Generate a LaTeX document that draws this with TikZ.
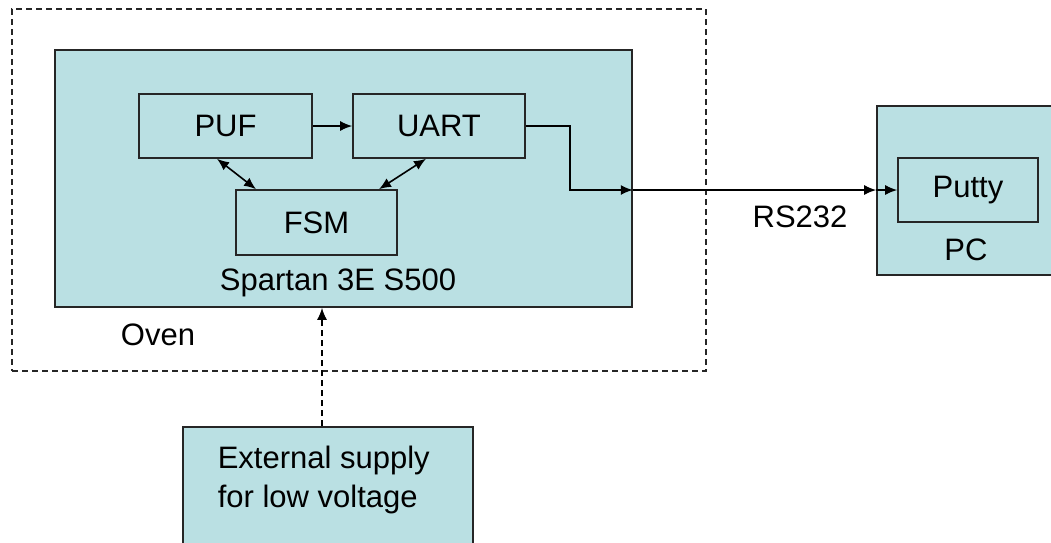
\documentclass[tikz,border=0pt]{standalone}
\usepackage{fontspec}
\setmainfont{Liberation Sans}
\usepackage{tikz}
\usetikzlibrary{arrows.meta,positioning}
\definecolor{boxfill}{RGB}{186,224,227}

\begin{document}
\begin{tikzpicture}[x=1pt,y=-1pt,line width=1.6pt,
  font=\fontsize{31}{39}\selectfont,
  blk/.style={draw=black!85,fill=boxfill,inner sep=0pt},
  arr/.style={-{Latex[length=12pt,width=10pt]}},
  dbl/.style={{Latex[length=12pt,width=10pt]}-{Latex[length=12pt,width=10pt]}}]
\useasboundingbox (0,0) rectangle (1051,542);
\clip (0,0) rectangle (1051,542);
% boxes
\node[draw=black!85,dash pattern=on 6pt off 4pt,minimum width=694pt,minimum height=362pt] (oven) at (359,190) {};
\node[blk,minimum width=577pt,minimum height=257pt] (spartan) at (343.5,178.5) {};
\node[blk,minimum width=173pt,minimum height=64pt] (puf) at (225.5,126) {PUF};
\node[blk,minimum width=172pt,minimum height=64pt] (uart) at (439,126) {UART};
\node[blk,minimum width=161pt,minimum height=65pt] (fsm) at (316.5,222.5) {FSM};
\node[blk,minimum width=200pt,minimum height=169pt] (pc) at (977,190.5) {};
\node[blk,minimum width=140pt,minimum height=64pt] (putty) at (968,190) {Putty};
\node[blk,minimum width=290pt,minimum height=152pt] (ext) at (328,503) {};
% labels
\node (spartanlbl) at (338,283) {Spartan 3E S500};
\node (ovenlbl) at (158,335) {Oven};
\node (pclbl) at (966,250) {PC};
\node (rslbl) at (800,217) {RS232};
\node[anchor=west,align=left,inner sep=0pt] (extlbl) at (217,480) {External supply\\for low voltage};
% connections
\draw[arr] (puf) -- (uart);
\draw[dbl] ([xshift=-8.5pt]puf.south) -- ([xshift=-60.5pt]fsm.north);
\draw[dbl] ([xshift=-13pt]uart.south) -- ([xshift=62.5pt]fsm.north);
\draw[arr] (uart.east) -- ++(44,0) |- (spartan.east |- putty.west);
\draw[arr] (spartan.east |- putty.west) -- (pc.west |- putty.west);
\draw[arr] (pc.west |- putty.west) -- (putty.west);
\draw[arr,dash pattern=on 6pt off 4pt] ([xshift=-6pt]ext.north) -- ([xshift=-6pt]ext.north |- spartan.south);
\end{tikzpicture}
\end{document}
